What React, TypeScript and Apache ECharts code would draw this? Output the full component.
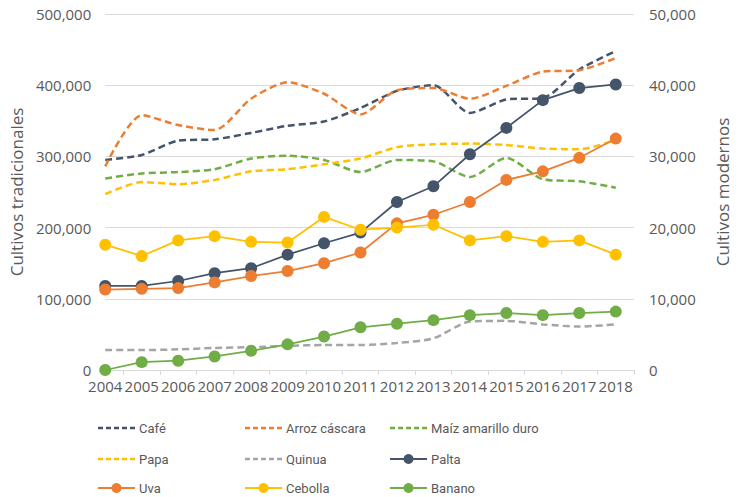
import React, { useEffect, useRef } from "react";
import * as echarts from "echarts";

const years = [2004, 2005, 2006, 2007, 2008, 2009, 2010, 2011, 2012, 2013, 2014, 2015, 2016, 2017, 2018];

// Left axis (Cultivos tradicionales)
const cafe = [295000, 302000, 322000, 324000, 333000, 343000, 349000, 368000, 392000, 400000, 361000, 380000, 382000, 422000, 448000];
const arroz = [286000, 358000, 344000, 337000, 381000, 404000, 388000, 359000, 393000, 396000, 381000, 399000, 419000, 421000, 438000];
const maiz = [269000, 276000, 278000, 282000, 297000, 301000, 295000, 278000, 295000, 293000, 271000, 298000, 268000, 265000, 256000];
const papa = [247000, 264000, 261000, 267000, 279000, 282000, 289000, 297000, 313000, 317000, 318000, 316000, 311000, 310000, 323000];
const quinua = [28000, 28000, 29000, 31000, 32000, 34000, 35000, 35000, 38000, 44500, 68000, 69000, 64000, 61000, 64000];

// Right axis (Cultivos modernos)
const palta = [11800, 11800, 12500, 13600, 14300, 16200, 17800, 19300, 23600, 25800, 30300, 34000, 37900, 39600, 40100];
const uva = [11300, 11400, 11500, 12300, 13200, 13900, 15000, 16500, 20600, 21800, 23600, 26700, 27900, 29800, 32500];
const cebolla = [17600, 16000, 18200, 18800, 18000, 17900, 21500, 19700, 20000, 20400, 18200, 18800, 18000, 18200, 16200];
const banano = [0, 1100, 1300, 1900, 2700, 3600, 4700, 6000, 6500, 7000, 7700, 8000, 7700, 8000, 8200];

const leftTicks = [0, 100000, 200000, 300000, 400000, 500000];
const rightTicks = [0, 10000, 20000, 30000, 40000, 50000];

// legend layout: [name, color, dashed]
const legendItems: [string, string, boolean][] = [
  ["Café", "#44546A", true],
  ["Arroz cáscara", "#ED7D31", true],
  ["Maíz amarillo duro", "#70AD47", true],
  ["Papa", "#FFC000", true],
  ["Quinua", "#A5A5A5", true],
  ["Palta", "#44546A", false],
  ["Uva", "#ED7D31", false],
  ["Cebolla", "#FFC000", false],
  ["Banano", "#70AD47", false],
];
const legendCols = [98, 245, 390];
const legendRows = [428, 459, 488];

const FONT = "'Open Sans', sans-serif";
const LEGEND_FONT = "Roboto, 'Liberation Sans', sans-serif";
const GRAY = "#595959";

const C_NAVY = "#44546A";
const C_ORANGE = "#ED7D31";
const C_GREEN = "#70AD47";
const C_YELLOW = "#FFC000";
const C_GRAY = "#A5A5A5";

const fmt = (v: number) => v.toLocaleString("en-US");

export default function App() {
  const ref = useRef<HTMLDivElement>(null);
  useEffect(() => {
    if (!ref.current) return;
    const chart = echarts.init(ref.current, undefined, { renderer: "svg" });
    const pair = (arr: number[]) => arr.map((v, i) => [years[i], v]);
    const dashed = (name: string, data: number[], color: string) => ({
      name,
      type: "line",
      yAxisIndex: 0,
      data: pair(data),
      smooth: 0.25,
      symbol: "none",
      lineStyle: { color, width: 2.5, type: [7, 4] },
      itemStyle: { color },
      z: 2,
    });
    const solid = (name: string, data: number[], color: string) => ({
      name,
      type: "line",
      yAxisIndex: 1,
      data: pair(data),
      symbol: "circle",
      symbolSize: 12,
      lineStyle: { color, width: 1.75 },
      itemStyle: { color },
      z: 3,
    });

    const graphics: any[] = [];
    legendItems.forEach(([name, color, isDashed], i) => {
      const x = legendCols[i % 3];
      const y = legendRows[Math.floor(i / 3)];
      graphics.push({
        type: "line",
        shape: { x1: x, y1: y, x2: x + 37, y2: y },
        style: isDashed
          ? { stroke: color, lineWidth: 2.5, lineDash: [5, 3] }
          : { stroke: color, lineWidth: 2 },
      });
      if (!isDashed) {
        graphics.push({
          type: "circle",
          shape: { cx: x + 18.5, cy: y, r: 5 },
          style: { fill: color },
        });
      }
      graphics.push({
        type: "text",
        x: x + 41,
        y,
        style: {
          text: name,
          fill: GRAY,
          font: `13px ${LEGEND_FONT}`,
          verticalAlign: "middle",
          align: "left",
        },
      });
    });

    chart.setOption({
      animation: false,
      backgroundColor: "#ffffff",
      grid: { left: 104, right: 88, top: 14, bottom: 127, containLabel: false },
      graphic: graphics,
      xAxis: {
        type: "value",
        min: 2004,
        max: 2018.5,
        splitLine: { show: false },
        axisLine: { show: true, lineStyle: { color: "#D9D9D9", width: 1 } },
        axisTick: {
          show: true,
          length: 5,
          lineStyle: { color: "#D9D9D9" },
          customValues: years.map((y) => y + 0.5),
        },
        axisLabel: {
          customValues: years,
          formatter: (v: number) => String(v),
          color: GRAY,
          fontFamily: FONT,
          fontSize: 15,
          margin: 8,
          showMinLabel: true,
          showMaxLabel: true,
        },
      },
      yAxis: [
        {
          type: "value",
          min: 0,
          max: 500000,
          interval: 100000,
          name: "Cultivos tradicionales",
          nameLocation: "middle",
          nameGap: 76,
          nameTextStyle: { color: GRAY, fontFamily: FONT, fontSize: 17 },
          axisLine: { show: false },
          axisTick: { show: false },
          splitLine: { show: true, lineStyle: { color: "#D9D9D9", width: 1 } },
          axisLabel: {
            color: GRAY,
            fontFamily: FONT,
            fontSize: 15,
            margin: 14,
            customValues: leftTicks,
            formatter: (v: number) => fmt(v),
          },
        },
        {
          type: "value",
          min: 0,
          max: 50000,
          interval: 10000,
          position: "right",
          name: "Cultivos modernos",
          nameLocation: "middle",
          nameGap: 80,
          nameRotate: 90,
          nameTextStyle: { color: GRAY, fontFamily: FONT, fontSize: 17 },
          axisLine: { show: false },
          axisTick: { show: false },
          splitLine: { show: false },
          axisLabel: {
            color: GRAY,
            fontFamily: FONT,
            fontSize: 15,
            margin: 15,
            customValues: rightTicks,
            formatter: (v: number) => fmt(v),
          },
        },
      ],
      series: [
        dashed("Café", cafe, C_NAVY),
        dashed("Arroz cáscara", arroz, C_ORANGE),
        dashed("Maíz amarillo duro", maiz, C_GREEN),
        dashed("Papa", papa, C_YELLOW),
        dashed("Quinua", quinua, C_GRAY),
        solid("Palta", palta, C_NAVY),
        solid("Uva", uva, C_ORANGE),
        solid("Cebolla", cebolla, C_YELLOW),
        solid("Banano", banano, C_GREEN),
      ],
    });
    return () => chart.dispose();
  }, []);
  return <div ref={ref} style={{ width: 739, height: 497, position: "absolute", left: 0, top: 0 }} />;
}
